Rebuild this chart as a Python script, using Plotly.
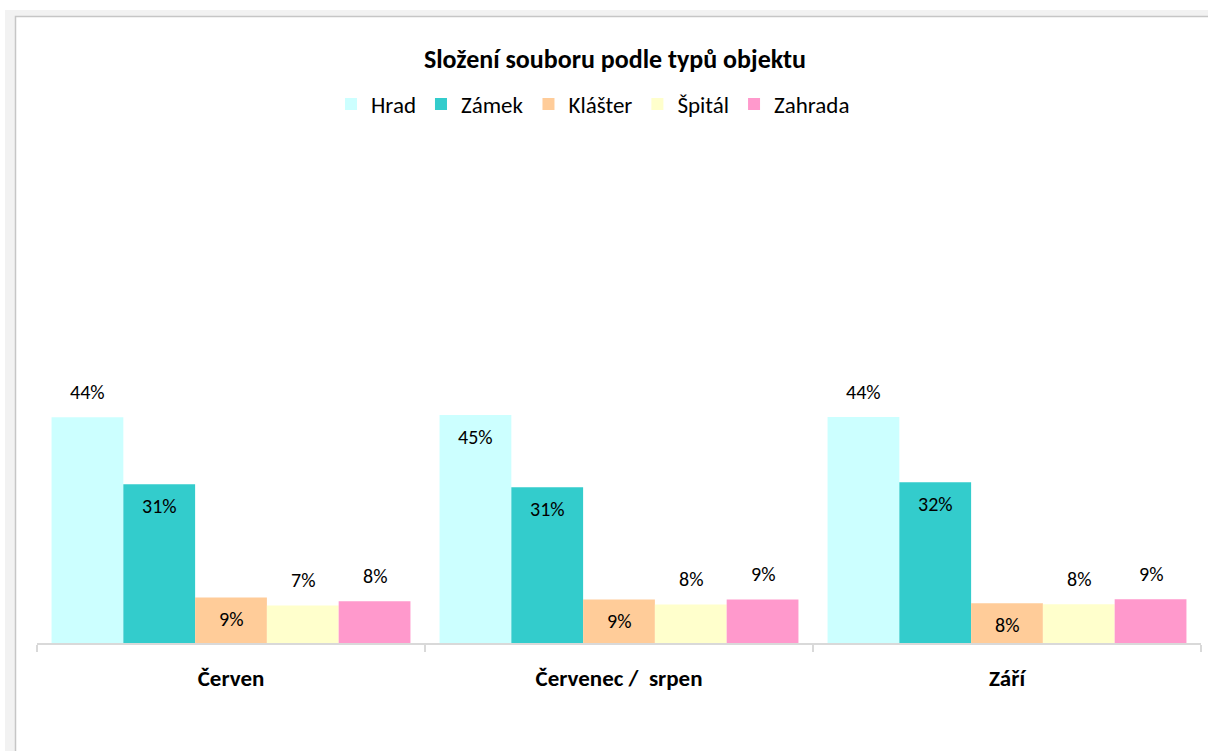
import plotly.graph_objects as go

categories = ["Červen", "Červenec /  srpen", "Září"]
series_names = ["Hrad", "Zámek", "Klášter", "Špitál", "Zahrada"]
hrad = [0.4435, 0.448, 0.4438]
zamek = [0.3117, 0.306, 0.316]
klaster = [0.0895, 0.0855, 0.0781]
spital = [0.0737, 0.0757, 0.0761]
zahrada = [0.0822, 0.0855, 0.0859]
colors = ["#CCFFFF", "#33CCCC", "#FFCC99", "#FFFFCC", "#FF99CC"]
# whether each data label sits inside the bar (True) or above it (False)
label_inside = [
    [False, True, False],
    [True, True, True],
    [True, True, True],
    [False, False, False],
    [False, False, False],
]

series = [hrad, zamek, klaster, spital, zahrada]

W, H = 1208, 751
ML, MR, MT, MB = 37, 7, 134, 108
PW, PH = W - ML - MR, H - MT - MB
FONT = "Carlito, Calibri, Lato, sans-serif"
BARGAP = 0.075

def px_x(p):
    return (p - ML) / PW

def px_y(p):
    return (H - MB - p) / PH

fig = go.Figure()
for name, vals, col in zip(series_names, series, colors):
    fig.add_trace(go.Bar(name=name, x=categories, y=vals,
                         marker=dict(color=col, line=dict(width=0))))

annotations = []
n = len(series)
bw = (1 - BARGAP) / n
for i, (vals, ins) in enumerate(zip(series, label_inside)):
    off = -(1 - BARGAP) / 2 + (i + 0.5) * bw
    for j, v in enumerate(vals):
        annotations.append(dict(
            x=j + off, y=v, xref="x", yref="y",
            text=f"{round(v * 100):.0f}%", showarrow=False,
            yanchor="middle", xanchor="center",
            yshift=-22 if ins[j] else 25,
            font=dict(family=FONT, size=20, color="#000000"),
        ))

shapes = [
    dict(type="rect", xref="paper", yref="paper", layer="below",
         x0=px_x(5), x1=px_x(1230), y0=px_y(10), y1=px_y(780),
         fillcolor="#f2f2f2", line=dict(width=0)),
    dict(type="rect", xref="paper", yref="paper", layer="below",
         x0=px_x(15.5), x1=px_x(1240), y0=px_y(16.5), y1=px_y(790),
         fillcolor="#ffffff", line=dict(color="#c6c6c6", width=1.5)),
]

fig.update_layout(
    width=W, height=H,
    margin=dict(l=ML, r=MR, t=MT, b=MB),
    paper_bgcolor="#ffffff", plot_bgcolor="rgba(0,0,0,0)",
    barmode="group", bargap=BARGAP, bargroupgap=0,
    title=dict(text="<b>Složení souboru podle typů objektu</b>",
               x=615 / W, xanchor="center",
               y=1 - 59 / H, yanchor="middle", xref="container",
               font=dict(family=FONT, size=26, color="#000000")),
    legend=dict(orientation="h", x=px_x(593), xanchor="center",
                y=px_y(104), yanchor="middle",
                font=dict(family=FONT, size=23, color="#000000"),
                traceorder="normal", itemwidth=30),
    xaxis=dict(showline=True, linecolor="#d9d9d9", linewidth=1.5,
               ticks="outside", tickcolor="#d9d9d9", ticklen=7, tickwidth=1.5,
               tickson="boundaries", showgrid=False,
               tickfont=dict(family=FONT, size=23, color="#000000", weight="bold"),
               ticklabelstandoff=14, fixedrange=True),
    yaxis=dict(visible=False, range=[0, 1], fixedrange=True),
    shapes=shapes, annotations=annotations,
    showlegend=True,
)

fig.write_html("out.html", config={"displayModeBar": False},
               post_script="document.body.style.margin='0px';")
